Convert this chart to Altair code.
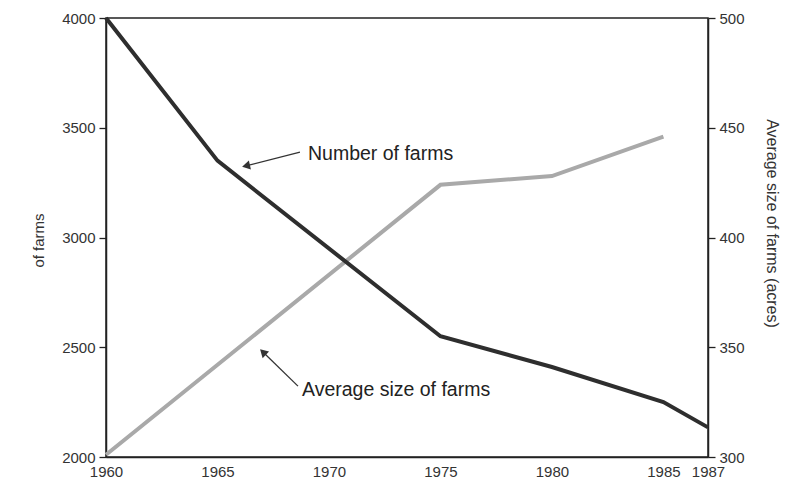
import altair as alt
import pandas as pd

# Data
farm_years = [1960, 1965, 1975, 1980, 1985, 1987]
farm_counts = [4000, 3350, 2550, 2410, 2250, 2135]

size_years = [1960, 1975, 1980, 1985]
size_acres = [301, 424, 428, 446]

x_ticks = [1960, 1965, 1970, 1975, 1980, 1985, 1987]
left_ticks = [2000, 2500, 3000, 3500, 4000]
right_ticks = [300, 350, 400, 450, 500]

# Annotation anchors (in data coordinates: year, number of farms)
label_text = ["Number of farms", "Average size of farms"]
label_x = [1969.06, 1968.79]
label_y = [3380, 2305]
arrow_x = [1968.70, 1968.61]
arrow_y = [3389, 2323]
arrow_x2 = [1966.28, 1967.04]
arrow_y2 = [3326, 2478]

farms_df = pd.DataFrame({"year": farm_years, "farms": farm_counts})
size_df = pd.DataFrame({"year": size_years, "size": size_acres})
labels_df = pd.DataFrame({"text": label_text, "x": label_x, "y": label_y})
arrows_df = pd.DataFrame({"x": arrow_x, "y": arrow_y, "x2": arrow_x2, "y2": arrow_y2})

FONT = "Liberation Sans"
TXT = "#333333"

xscale = alt.Scale(domain=[1960, 1987], nice=False, zero=False)
yscale_l = alt.Scale(domain=[2000, 4000], nice=False, zero=False)
yscale_r = alt.Scale(domain=[300, 500], nice=False, zero=False)

x_enc = alt.X("year:Q", scale=xscale, title=None,
              axis=alt.Axis(values=x_ticks, format="d", ticks=False, grid=False,
                            labelOverlap=False, labelFlush=False, labelFontSize=15,
                            labelColor=TXT, labelFont=FONT, labelPadding=7,
                            domainColor="#222", domainWidth=1.5))

farms_line = alt.Chart(farms_df).mark_line(color="#2e2e2e", strokeWidth=4).encode(
    x=x_enc,
    y=alt.Y("farms:Q", scale=yscale_l, title="of farms",
            axis=alt.Axis(orient="left", values=left_ticks, format="d", grid=False,
                          tickSize=7, tickColor="#222", tickWidth=1.3,
                          domainColor="#222", domainWidth=1.5, labelFontSize=15,
                          labelColor=TXT, labelFont=FONT, labelPadding=4,
                          titleFont=FONT, titleFontSize=15, titleFontWeight="normal",
                          titleColor=TXT, titleX=-60, titleY=222, titleAngle=270,
                          titleAlign="center")),
)

arrow_lines = alt.Chart(arrows_df).mark_rule(color="#333", strokeWidth=1.3).encode(
    x=alt.X("x:Q", scale=xscale),
    y=alt.Y("y:Q", scale=yscale_l, axis=None),
    x2="x2:Q",
    y2="y2:Q",
)

head1 = alt.Chart(arrows_df.iloc[[0]]).mark_point(
    shape="triangle-up", filled=True, color="#333", size=85, angle=257, opacity=1
).encode(x=alt.X("x2:Q", scale=xscale), y=alt.Y("y2:Q", scale=yscale_l, axis=None))

head2 = alt.Chart(arrows_df.iloc[[1]]).mark_point(
    shape="triangle-up", filled=True, color="#333", size=85, angle=314, opacity=1
).encode(x=alt.X("x2:Q", scale=xscale), y=alt.Y("y2:Q", scale=yscale_l, axis=None))

labels = alt.Chart(labels_df).mark_text(
    align="left", baseline="middle", font=FONT, fontSize=19.5, color="#222"
).encode(
    x=alt.X("x:Q", scale=xscale),
    y=alt.Y("y:Q", scale=yscale_l, axis=None),
    text="text:N",
)

size_line = alt.Chart(size_df).mark_line(color="#a9a9a9", strokeWidth=4).encode(
    x=alt.X("year:Q", scale=xscale),
    y=alt.Y("size:Q", scale=yscale_r, title="Average size of farms (acres)",
            axis=alt.Axis(orient="right", values=right_ticks, grid=False, tickSize=7,
                          tickColor="#222", tickWidth=1.3, domainColor="#222",
                          domainWidth=1.5, labelFontSize=15, labelColor=TXT,
                          labelFont=FONT, labelPadding=4, titleFont=FONT,
                          titleFontSize=16, titleFontWeight="normal",
                          titleColor=TXT, titleX=63, titleY=205, titleAngle=90,
                          titleAlign="center", titleBaseline="middle")),
)

chart = alt.layer(size_line, farms_line, arrow_lines, head1, head2, labels).resolve_scale(
    y="independent"
).properties(
    width=602,
    height=439,
    autosize=alt.AutoSizeParams(type="none"),
    padding={"left": 106, "top": 18, "right": 78, "bottom": 28},
    background="white",
).configure_view(stroke="#222", strokeWidth=1.5).configure_axisLeft(
    titleFontSize=15, titleFont=FONT
)

chart.save("out.html", embed_options={"renderer": "svg", "actions": False})
